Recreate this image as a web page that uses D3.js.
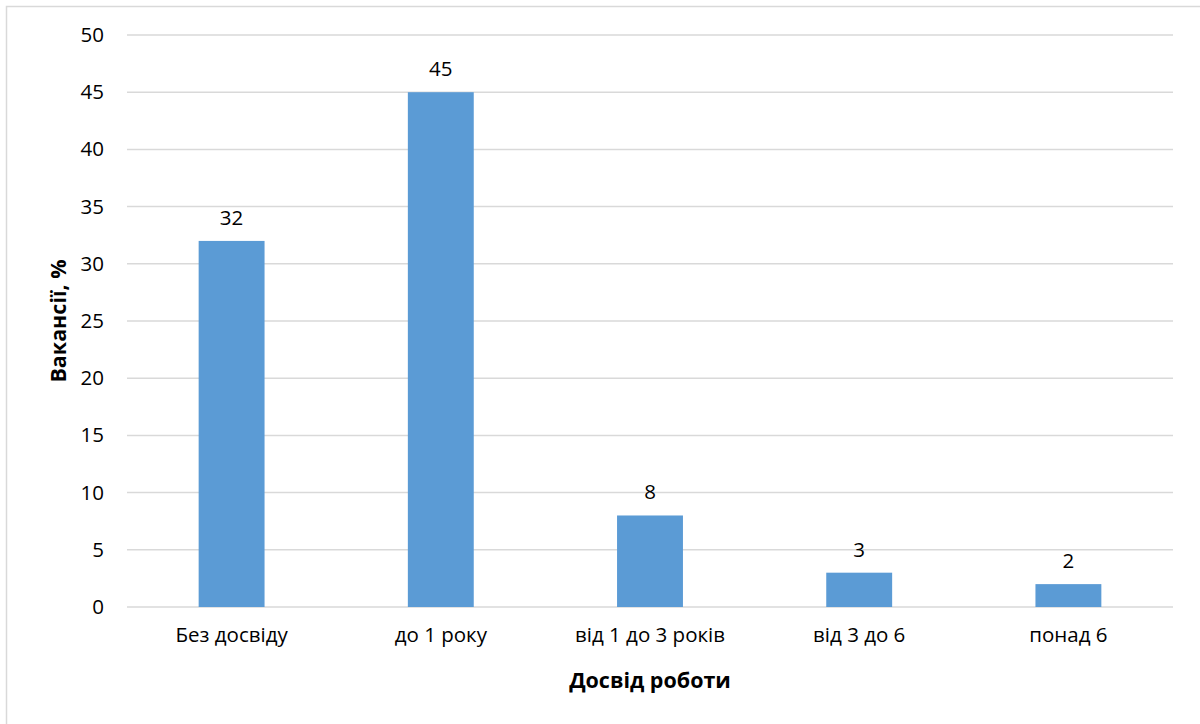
<!DOCTYPE html>
<html>
<head>
<meta charset="utf-8">
<script src="https://cdn.jsdelivr.net/npm/d3@7"></script>
<style>
  html, body { margin: 0; padding: 0; background: #fff; }
  svg { display: block; font-family: "Open Sans", "Noto Sans", sans-serif; }
</style>
</head>
<body>
<svg id="chart" width="1200" height="724"></svg>
<script>
// Vacancy share by required work experience
const categories = ["Без досвіду", "до 1 року", "від 1 до 3 років", "від 3 до 6", "понад 6"];
const values = [32, 45, 8, 3, 2];
const yTicks = [0, 5, 10, 15, 20, 25, 30, 35, 40, 45, 50];
const xTitle = "Досвід роботи";
const yTitle = "Вакансії, %";

const svg = d3.select("#chart");
const W = 1200, H = 724;
const plot = { left: 127, right: 1173, top: 35, bottom: 607 };
const tickFont = 20.5;
const titleFont = 21.5;

// outer chart frame
svg.append("rect")
  .attr("x", 6.5).attr("y", 6.5)
  .attr("width", W + 10).attr("height", H + 10)
  .attr("fill", "#fff")
  .attr("stroke", "#d9d9d9").attr("stroke-width", 1.5);

const x = d3.scaleBand()
  .domain(categories)
  .range([plot.left, plot.right])
  .paddingInner(0.685).paddingOuter(0.3425);

const y = d3.scaleLinear()
  .domain([0, 50])
  .range([plot.bottom, plot.top]);

// horizontal gridlines
svg.append("g")
  .selectAll("line")
  .data(yTicks)
  .join("line")
  .attr("x1", plot.left).attr("x2", plot.right)
  .attr("y1", d => y(d)).attr("y2", d => y(d))
  .attr("stroke", "#d9d9d9").attr("stroke-width", 1.5);

// y axis labels
const yAxis = d3.axisLeft(y).tickValues(yTicks).tickSize(0).tickPadding(0);
svg.append("g")
  .attr("transform", `translate(${plot.left - 23},0)`)
  .call(yAxis)
  .call(g => g.select(".domain").remove())
  .selectAll("text")
  .attr("font-size", tickFont)
  .attr("font-family", "Open Sans, sans-serif")
  .attr("fill", "#000");

// bars
svg.append("g")
  .selectAll("rect")
  .data(values)
  .join("rect")
  .attr("x", (d, i) => x(categories[i]))
  .attr("width", x.bandwidth())
  .attr("y", d => y(d))
  .attr("height", d => y(0) - y(d))
  .attr("fill", "#5b9bd5");

// value labels above bars
svg.append("g")
  .selectAll("text")
  .data(values)
  .join("text")
  .attr("x", (d, i) => x(categories[i]) + x.bandwidth() / 2)
  .attr("y", d => y(d) - 16)
  .attr("text-anchor", "middle")
  .attr("font-size", tickFont)
  .attr("fill", "#000")
  .text(d => d);

// x axis category labels
const xAxis = d3.axisBottom(x).tickSize(0).tickPadding(0);
svg.append("g")
  .attr("transform", `translate(0,${plot.bottom + 20})`)
  .call(xAxis)
  .call(g => g.select(".domain").remove())
  .selectAll("text")
  .attr("font-size", tickFont)
  .attr("font-family", "Open Sans, sans-serif")
  .attr("fill", "#000");

// axis titles
svg.append("text")
  .attr("x", (plot.left + plot.right) / 2)
  .attr("y", 688)
  .attr("text-anchor", "middle")
  .attr("font-size", titleFont)
  .attr("font-weight", "bold")
  .text(xTitle);

svg.append("text")
  .attr("transform", `translate(66,${(plot.top + plot.bottom) / 2}) rotate(-90)`)
  .attr("text-anchor", "middle")
  .attr("font-size", titleFont)
  .attr("font-weight", "bold")
  .text(yTitle);
</script>
</body>
</html>
